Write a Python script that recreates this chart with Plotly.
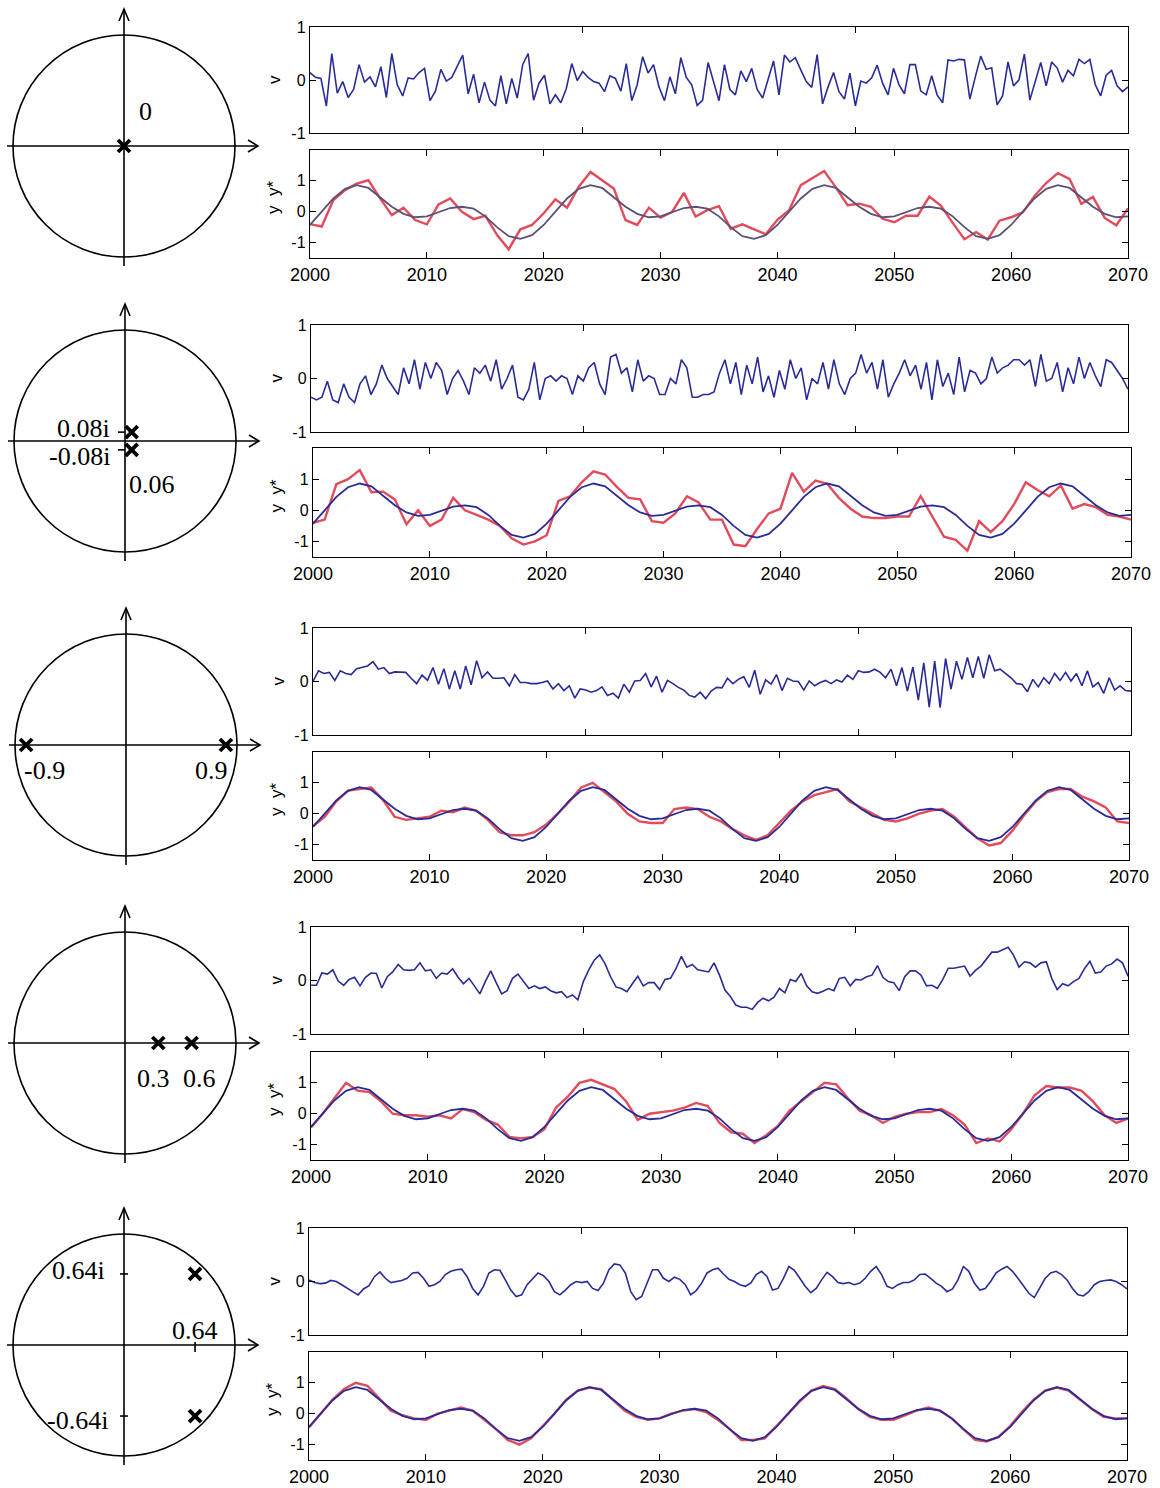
import numpy as np
import plotly.graph_objects as go

W, H = 1160, 1488
R = 111.0  # pixels per unit on the pole diagrams

# ---------------- data ----------------
years = list(range(2000, 2071))
year_ticks = list(range(2000, 2071, 10))

# common target path y*
y_star = [-0.43, 0.00, 0.43, 0.74, 0.86, 0.77, 0.48, 0.16, -0.07, -0.18,
          -0.15, -0.01, 0.12, 0.16, 0.10, -0.15, -0.50, -0.79, -0.88, -0.76,
          -0.43, 0.00, 0.43, 0.74, 0.86, 0.77, 0.48, 0.16, -0.07, -0.18,
          -0.15, -0.01, 0.12, 0.16, 0.10, -0.15, -0.50, -0.79, -0.88, -0.76,
          -0.43, 0.00, 0.43, 0.74, 0.86, 0.77, 0.48, 0.16, -0.07, -0.18,
          -0.15, -0.01, 0.12, 0.16, 0.10, -0.15, -0.50, -0.79, -0.88, -0.76,
          -0.43, 0.00, 0.43, 0.74, 0.86, 0.77, 0.48, 0.16, -0.07, -0.18,
          -0.15]

# disturbance v for each case
v_case1 = [0.14, 0.05, 0.03, -0.49, 0.50, -0.25, -0.03, -0.33, -0.18, 0.29,
           -0.04, 0.06, -0.13, 0.25, -0.33, 0.50, -0.09, -0.30, 0.04, 0.02,
           0.14, 0.22, -0.39, -0.21, 0.20, -0.02, 0.05, 0.25, 0.47, -0.26,
           0.11, -0.43, -0.04, -0.38, -0.49, 0.08, -0.45, 0.03, -0.34, 0.29,
           0.50, -0.38, -0.06, 0.09, -0.45, -0.28, -0.43, -0.16, 0.31, -0.01,
           0.16, 0.05, -0.03, -0.06, -0.22, 0.08, 0.03, -0.21, 0.31, -0.39,
           -0.09, 0.44, 0.13, 0.29, -0.13, -0.39, 0.06, -0.26, 0.42, 0.05,
           -0.09, -0.48, -0.38, 0.33, -0.03, -0.39,
           0.29, -0.18, -0.28, 0.17, -0.03, 0.22, -0.18, -0.34, 0.01, 0.36,
           -0.28, 0.47, 0.34, 0.42, 0.19, -0.03, -0.14, 0.48, -0.45, -0.13,
           0.14, -0.22, -0.36, 0.13, -0.49, -0.02, -0.06, 0.04, 0.28, -0.06,
           -0.28, 0.22, -0.09, -0.26, 0.29, 0.29, -0.21, -0.28, 0.08, -0.28,
           -0.43, 0.38, 0.36, 0.39, 0.38, -0.36, 0.06, 0.45, 0.20, 0.23,
           -0.47, -0.30, 0.34, -0.11, 0.00, 0.49, -0.38, 0.00, 0.33, -0.11,
           0.34, 0.23, -0.04, 0.18, 0.08, 0.39, 0.31, 0.39, -0.09, -0.30,
           0.09, 0.18, -0.11, -0.22, -0.13]

v_case2 = [-0.35, -0.40, -0.35, -0.05, -0.40, -0.45, -0.10, -0.35, -0.45, -0.10,
           0.05, -0.30, -0.10, 0.25, 0.00, -0.15, -0.30, 0.20, -0.10, 0.35,
           -0.20, 0.30, 0.00, 0.30, 0.15, -0.30, 0.00, 0.15, -0.05, -0.30,
           0.20, 0.10, 0.25, -0.05, 0.35, -0.20, 0.00, 0.25, -0.35, -0.40,
           -0.20, 0.30, -0.40, 0.00, 0.05, -0.05, 0.05, 0.00, -0.30, 0.05,
           -0.05, 0.20, 0.30, -0.10, -0.30, 0.40, 0.45, 0.10, 0.20, -0.25,
           0.35, -0.05, 0.05, 0.00, -0.30, -0.30, 0.00, -0.10, 0.35, 0.20,
           -0.35, -0.35, -0.30, -0.30, -0.25, 0.10, 0.35, -0.10, 0.30, -0.30,
           0.25, -0.10, 0.40, -0.25, 0.05, -0.35, 0.15, -0.20, 0.35, 0.00,
           0.20, -0.40, 0.00, -0.10, 0.30, -0.20, 0.35, -0.10, -0.30, 0.00,
           0.10, 0.45, 0.10, 0.30, -0.20, 0.35, -0.35, -0.10, 0.10, 0.35,
           0.05, 0.25, -0.20, 0.30, -0.40, 0.35, -0.15, 0.10, -0.30, 0.40,
           -0.25, 0.15, 0.10, -0.10, 0.00, 0.40, 0.10, 0.20, 0.25, 0.35,
           0.35, 0.25, 0.35, -0.15, 0.45, -0.05, 0.00, 0.30, -0.25, 0.20,
           -0.10, 0.40, 0.00, 0.30, 0.05, -0.15, 0.35, 0.30, 0.15, 0.00,
           -0.20]

v_case3 = [0.00, 0.20, 0.15, 0.17, 0.02, 0.20, 0.15, 0.13, 0.24, 0.26,
           0.29, 0.37, 0.23, 0.26, 0.15, 0.18, 0.17, 0.17, 0.06, -0.04,
           0.12, 0.02, 0.26, -0.05, 0.24, -0.14, 0.20, -0.14, 0.29, -0.06,
           0.39, 0.07, 0.18, 0.06, 0.06, 0.07, -0.08, 0.13, -0.02, -0.02,
           -0.04, -0.04, -0.02, 0.01, -0.14, -0.04, -0.17, -0.08, -0.31, -0.14,
           -0.16, -0.20, -0.17, -0.10, -0.26, -0.22, -0.31, -0.05, -0.20, 0.01,
           0.02, 0.15, -0.10, 0.10, -0.20, 0.02, -0.04, -0.11, -0.16, -0.26,
           -0.29, -0.20, -0.32, -0.18, -0.11, -0.12, 0.06, -0.04, 0.04, 0.09,
           -0.11, 0.21, -0.24, 0.03, -0.05, 0.13, -0.17, 0.06, 0.01, 0.00,
           -0.16, 0.01, -0.08, -0.02, 0.02, -0.04, 0.03, -0.01, 0.12, 0.04,
           0.20, 0.17, 0.18, 0.23, 0.17, 0.07, 0.23, -0.08, 0.26, -0.18,
           0.27, -0.35, 0.35, -0.48, 0.38, -0.49, 0.43, -0.14, 0.38, 0.04,
           0.45, 0.07, 0.47, 0.06, 0.50, 0.20, 0.23, 0.15, 0.07, -0.04,
           -0.05, -0.19, 0.04, -0.10, 0.07, -0.04, 0.15, 0.02, 0.17, 0.01,
           0.15, -0.08, 0.20, -0.10, -0.02, -0.22, 0.07, -0.16, -0.08, -0.17,
           -0.18]

v_case4 = [-0.09, -0.09, 0.14, 0.12, 0.20, -0.01, -0.09, 0.02, 0.06, -0.10,
           0.06, 0.14, 0.13, -0.14, 0.07, 0.16, 0.30, 0.20, 0.19, 0.20,
           0.33, 0.18, 0.20, 0.04, 0.14, 0.12, 0.22, 0.06, -0.06, 0.04,
           -0.10, -0.25, -0.02, 0.18, -0.04, -0.25, -0.19, 0.04, 0.12, -0.01,
           -0.15, -0.10, -0.15, -0.12, -0.19, -0.23, -0.21, -0.32, -0.27, -0.36,
           -0.02, 0.20, 0.38, 0.48, 0.31, 0.07, -0.12, -0.15, -0.21, -0.06,
           0.08, -0.10, -0.04, -0.04, -0.17, 0.02, 0.04, 0.22, 0.45, 0.25,
           0.30, 0.20, 0.18, 0.16, 0.33, 0.10, -0.18, -0.30, -0.46, -0.50,
           -0.50, -0.54, -0.41, -0.33, -0.38, -0.31, -0.15, -0.23, 0.02, -0.02,
           0.13, -0.10, -0.21, -0.24, -0.20, -0.15, -0.19, 0.04, 0.06, -0.10,
           0.02, 0.01, 0.07, 0.10, 0.28, 0.06, -0.02, -0.04, -0.19, 0.07,
           0.18, 0.18, 0.10, -0.10, -0.09, -0.15, 0.02, 0.23, 0.23, 0.25,
           0.27, 0.08, 0.19, 0.27, 0.41, 0.53, 0.53, 0.57, 0.62, 0.47,
           0.25, 0.35, 0.33, 0.25, 0.33, 0.35, 0.04, -0.17, -0.06, -0.10,
           -0.02, 0.04, 0.22, 0.36, 0.14, 0.16, 0.27, 0.31, 0.40, 0.33,
           0.08]

v_case5 = [0.03, -0.02, -0.04, -0.03, 0.02, 0.00, -0.06, -0.13, -0.19, -0.25,
           -0.14, -0.08, 0.09, 0.18, 0.06, -0.02, 0.00, 0.02, 0.06, 0.16,
           0.17, 0.06, -0.09, -0.06, 0.00, 0.13, 0.19, 0.22, 0.23, 0.09,
           -0.13, -0.25, -0.09, 0.16, 0.22, 0.21, 0.03, -0.16, -0.28, -0.25,
           -0.06, 0.06, 0.16, 0.11, 0.00, -0.19, -0.25, -0.16, -0.06, 0.00,
           -0.02, 0.00, -0.13, -0.17, -0.03, 0.22, 0.33, 0.31, 0.16,
           -0.19, -0.34, -0.28, -0.03, 0.22, 0.22, 0.06, 0.00, 0.08,
           0.04, -0.06, -0.25, -0.17, -0.03, 0.16, 0.22, 0.25, 0.14, 0.04,
           0.00, -0.06, -0.09, -0.03, 0.13, 0.19, 0.09, -0.16, -0.13, 0.06,
           0.28, 0.21, 0.06, -0.09, -0.21, -0.13, 0.03, 0.17, 0.09, -0.02,
           -0.04, -0.02, -0.06, -0.03, 0.06, 0.19, 0.28, 0.13, -0.09, -0.13,
           -0.06, -0.02, -0.02, 0.03, 0.13, 0.14, 0.06, -0.03, -0.09, -0.19,
           -0.14, 0.03, 0.28, 0.19, -0.03, -0.16, -0.13, 0.00, 0.16, 0.23,
           0.28, 0.19, 0.06, -0.09, -0.22, -0.30, -0.13, 0.06, 0.16, 0.19,
           0.13, 0.03, -0.13, -0.25, -0.27, -0.19, -0.06, 0.00, 0.02, 0.03,
           0.00, -0.06, -0.14]

# realised output y for each case
y_case1 = [-0.40, -0.48, 0.38, 0.70, 0.91, 1.02, 0.43, -0.11, 0.13, -0.27,
           -0.41, 0.24, 0.43, 0.00, -0.24, -0.13, -0.75, -1.22, -0.57, -0.43,
           -0.05, 0.40, 0.13, 0.81, 1.29, 1.02, 0.75, -0.27, -0.43, 0.13,
           -0.19, 0.00, 0.61, -0.16, 0.05, 0.18, -0.55, -0.41, -0.58, -0.73,
           -0.26, 0.05, 0.86, 1.09, 1.32, 0.79, 0.21, 0.26, 0.16, -0.23,
           -0.34, -0.13, -0.13, 0.49, 0.19, -0.36, -0.89, -0.66, -0.90, -0.29,
           -0.18, -0.02, 0.51, 0.93, 1.25, 1.06, 0.26, 0.48, -0.20, -0.44,
           0.11]

y_case2 = [-0.40, -0.30, 0.84, 1.00, 1.29, 0.58, 0.60, 0.35, -0.45, 0.00,
           -0.50, -0.30, 0.40, 0.00, -0.15, -0.30, -0.50, -0.90, -1.10, -1.00,
           -0.80, 0.30, 0.45, 0.90, 1.25, 1.15, 0.75, 0.40, 0.35, -0.35,
           -0.40, -0.10, 0.45, 0.25, -0.30, -0.30, -1.10, -1.15, -0.60, -0.10,
           0.05, 1.20, 0.60, 0.95, 0.85, 0.40, 0.05, -0.20, -0.25, -0.25,
           -0.20, -0.20, 0.45, -0.20, -0.85, -0.95, -1.30, -0.35, -0.70, -0.35,
           0.20, 0.90, 0.65, 0.45, 0.80, 0.05, 0.20, 0.10, -0.15, -0.20,
           -0.30]

y_case3 = [-0.40, -0.10, 0.40, 0.75, 0.80, 0.85, 0.45, -0.10, -0.20, -0.15,
           -0.10, 0.10, 0.05, 0.20, 0.10, -0.20, -0.60, -0.70, -0.70, -0.60,
           -0.35, 0.00, 0.40, 0.85, 1.00, 0.70, 0.40, 0.00, -0.25, -0.30,
           -0.30, 0.15, 0.20, 0.15, -0.10, -0.25, -0.50, -0.70, -0.85, -0.70,
           -0.30, 0.10, 0.40, 0.60, 0.70, 0.80, 0.40, 0.20, 0.00, -0.20,
           -0.25, -0.15, 0.00, 0.10, 0.15, -0.10, -0.45, -0.80, -1.03, -0.95,
           -0.55, -0.05, 0.40, 0.70, 0.80, 0.80, 0.55, 0.40, 0.20, -0.25,
           -0.30]

y_case4 = [-0.45, 0.00, 0.50, 1.00, 0.75, 0.70, 0.40, 0.00, -0.05, -0.05,
           -0.10, -0.05, -0.15, 0.15, 0.05, -0.20, -0.35, -0.75, -0.80, -0.75,
           -0.50, 0.20, 0.55, 1.00, 1.10, 0.95, 0.80, 0.40, -0.20, 0.00,
           0.05, 0.10, 0.20, 0.35, 0.25, -0.30, -0.60, -0.65, -0.95, -0.70,
           -0.40, 0.10, 0.40, 0.70, 1.00, 0.95, 0.50, 0.10, -0.05, -0.30,
           -0.10, 0.00, 0.05, 0.05, 0.15, -0.05, -0.35, -0.95, -0.80, -0.90,
           -0.50, 0.00, 0.60, 0.90, 0.85, 0.85, 0.75, 0.40, -0.05, -0.30,
           -0.15]

y_case5 = [-0.45, 0.00, 0.45, 0.80, 1.00, 0.90, 0.50, 0.10, -0.05, -0.15,
           -0.20, 0.00, 0.10, 0.20, 0.10, -0.20, -0.50, -0.85, -1.00, -0.80,
           -0.40, 0.00, 0.45, 0.75, 0.85, 0.80, 0.45, 0.10, -0.10, -0.20,
           -0.15, 0.00, 0.10, 0.15, 0.05, -0.20, -0.50, -0.85, -0.85, -0.80,
           -0.40, 0.00, 0.40, 0.75, 0.90, 0.80, 0.50, 0.15, -0.10, -0.20,
           -0.20, -0.05, 0.10, 0.20, 0.10, -0.15, -0.50, -0.85, -0.90, -0.75,
           -0.40, 0.05, 0.45, 0.75, 0.85, 0.75, 0.45, 0.15, -0.10, -0.15,
           -0.15]

# poles of each disturbance model (real, imaginary)
poles_re = [[0.0], [0.06, 0.06], [-0.9, 0.9], [0.3, 0.6], [0.64, 0.64]]
poles_im = [[0.0], [0.08, -0.08], [0.0, 0.0], [0.0, 0.0], [0.64, -0.64]]

v_list = [v_case1, v_case2, v_case3, v_case4, v_case5]
y_list = [y_case1, y_case2, y_case3, y_case4, y_case5]

# ---------------- styling ----------------
BLUE = "#2a2c95"
RED = "#e14b5c"
GREY = "#5c5076"
SANS = "Liberation Sans, Arial, sans-serif"
SERIF = "Liberation Serif, Times New Roman, serif"

# panel frames in pixels: (left, right, top, bottom)
v_boxes = [(310, 1128, 27, 133), (311, 1128, 325, 432), (313, 1131, 628, 735),
           (311, 1128, 927, 1034), (309, 1127, 1228, 1335)]
y_boxes = [(310, 1128, 150, 258), (313, 1131, 448, 557), (313, 1129, 752, 860),
           (311, 1128, 1052, 1160), (309, 1127, 1352, 1460)]
circle_centres = [(124, 146), (125, 441), (126, 745), (125, 1043), (124, 1345)]


def xdom(l, r):
    return [l / W, r / W]


def ydom(t, b):
    return [1 - b / H, 1 - t / H]


def ax_name(i, kind):
    return kind if i == 1 else f"{kind}{i}"


def lay_name(i, kind):
    return f"{kind}axis" if i == 1 else f"{kind}axis{i}"


fig = go.Figure()
layout = {}
shapes = []
annotations = []

frame = dict(showline=True, linecolor="black", linewidth=1.4, mirror="ticks",
             ticks="inside", ticklen=6, tickwidth=1.2, tickcolor="black",
             showgrid=False, zeroline=False, automargin=False)

for r in range(5):
    iv, iy, ic = 3 * r + 1, 3 * r + 2, 3 * r + 3

    # ---- v panel ----
    l, rr, t, b = v_boxes[r]
    layout[lay_name(iv, "x")] = dict(domain=xdom(l, rr), range=[0, 150],
                                     tickvals=[50, 100], showticklabels=False,
                                     anchor=ax_name(iv, "y"), **frame)
    layout[lay_name(iv, "y")] = dict(domain=ydom(t, b), range=[-1, 1],
                                     tickvals=[-1, 0, 1], ticktext=["-1", "0", "1"],
                                     tickfont=dict(family=SANS, size=16, color="black"),
                                     anchor=ax_name(iv, "x"), **frame)
    v = v_list[r]
    fig.add_trace(go.Scatter(x=np.arange(len(v)), y=v, mode="lines",
                             line=dict(color=BLUE, width=1.6),
                             xaxis=ax_name(iv, "x"), yaxis=ax_name(iv, "y"),
                             showlegend=False, hoverinfo="skip"))
    annotations.append(dict(text="v", xref="paper", yref="paper",
                            x=(l - 35) / W, y=1 - ((t + b) / 2) / H,
                            xanchor="center", yanchor="middle",
                            showarrow=False, textangle=-90,
                            font=dict(family=SANS, size=17, color="black")))

    # ---- y / y* panel ----
    l, rr, t, b = y_boxes[r]
    layout[lay_name(iy, "x")] = dict(domain=xdom(l, rr), range=[2000, 2070],
                                     tickvals=year_ticks,
                                     tickfont=dict(family=SANS, size=18, color="black"),
                                     anchor=ax_name(iy, "y"), **frame)
    layout[lay_name(iy, "y")] = dict(domain=ydom(t, b), range=[-1.5, 2],
                                     tickvals=[-1, 0, 1], ticktext=["-1", "0", "1"],
                                     tickfont=dict(family=SANS, size=16, color="black"),
                                     anchor=ax_name(iy, "x"), **frame)
    fig.add_trace(go.Scatter(x=years, y=y_list[r], mode="lines",
                             line=dict(color=RED, width=2.4),
                             xaxis=ax_name(iy, "x"), yaxis=ax_name(iy, "y"),
                             showlegend=False, hoverinfo="skip"))
    fig.add_trace(go.Scatter(x=years, y=y_star, mode="lines",
                             line=dict(color=GREY if r == 0 else BLUE, width=1.8),
                             xaxis=ax_name(iy, "x"), yaxis=ax_name(iy, "y"),
                             showlegend=False, hoverinfo="skip"))
    annotations.append(dict(text="y  y*", xref="paper", yref="paper",
                            x=(l - 37) / W, y=1 - ((t + b) / 2 - 6) / H,
                            xanchor="center", yanchor="middle",
                            showarrow=False, textangle=-90,
                            font=dict(family=SANS, size=17, color="black")))

    # ---- pole diagram ----
    cx, cy = circle_centres[r]
    xa, ya = ax_name(ic, "x"), ax_name(ic, "y")
    layout[lay_name(ic, "x")] = dict(domain=[0, (cx + 140) / W], range=[-cx / R, 140 / R],
                                     visible=False, anchor=ya, automargin=False)
    layout[lay_name(ic, "y")] = dict(domain=ydom(cy - 140, cy + 140),
                                     range=[-140 / R, 140 / R], visible=False, anchor=xa,
                                     automargin=False)

    def u(dx):
        return dx / R

    def w(dy):
        return -dy / R

    blk = dict(color="black", width=1.6)
    shapes.append(dict(type="circle", xref=xa, yref=ya, x0=-1, x1=1, y0=-1, y1=1, line=blk))
    shapes.append(dict(type="line", xref=xa, yref=ya, x0=u(-117), x1=u(134), y0=0, y1=0, line=blk))
    shapes.append(dict(type="line", xref=xa, yref=ya, x0=0, x1=0, y0=w(120), y1=w(-137), line=blk))
    shapes.append(dict(type="path", xref=xa, yref=ya, line=blk,
                       path=f"M {u(124)} {w(-6)} L {u(134)} 0 L {u(124)} {w(6)}"))
    shapes.append(dict(type="path", xref=xa, yref=ya, line=blk,
                       path=f"M {u(-5)} {w(-125)} L 0 {w(-137)} L {u(5)} {w(-125)}"))

    fig.add_trace(go.Scatter(x=poles_re[r], y=poles_im[r], mode="markers",
                             marker=dict(symbol="x-thin", size=12,
                                         line=dict(color="black", width=3.8)),
                             xaxis=xa, yaxis=ya, showlegend=False, hoverinfo="skip"))

    def lab(text, dx, dy, anchor="center"):
        annotations.append(dict(text=text, xref=xa, yref=ya, x=u(dx), y=w(dy),
                                showarrow=False, xanchor=anchor, yanchor="middle",
                                font=dict(family=SERIF, size=26, color="black")))

    if r == 0:
        lab("0", 21, -35)
    elif r == 1:
        for im in (0.08, -0.08):
            shapes.append(dict(type="line", xref=xa, yref=ya, x0=u(-7), x1=0,
                               y0=im, y1=im, line=blk))
        lab("0.08i", -13, -13, "right")
        lab("-0.08i", -13, 15, "right")
        lab("0.06", 2, 43, "left")
    elif r == 2:
        lab("-0.9", -104, 25, "left")
        lab("0.9", 104, 25, "right")
    elif r == 3:
        lab("0.3", 28, 35)
        lab("0.6", 74, 35)
    else:
        for im in (0.64, -0.64):
            shapes.append(dict(type="line", xref=xa, yref=ya, x0=u(-4), x1=u(4),
                               y0=im, y1=im, line=blk))
        shapes.append(dict(type="line", xref=xa, yref=ya, x0=0.64, x1=0.64,
                           y0=w(-3), y1=w(7), line=blk))
        lab("0.64i", -17, -75, "right")
        lab("0.64", 71, -15)
        lab("-0.64i", -14, 75, "right")

fig.update_layout(width=W, height=H,
                  margin=dict(l=0, r=0, t=0, b=0, pad=0, autoexpand=False),
                  paper_bgcolor="white", plot_bgcolor="white",
                  shapes=shapes, annotations=annotations, showlegend=False,
                  **layout)

fig.write_html("out.html")
